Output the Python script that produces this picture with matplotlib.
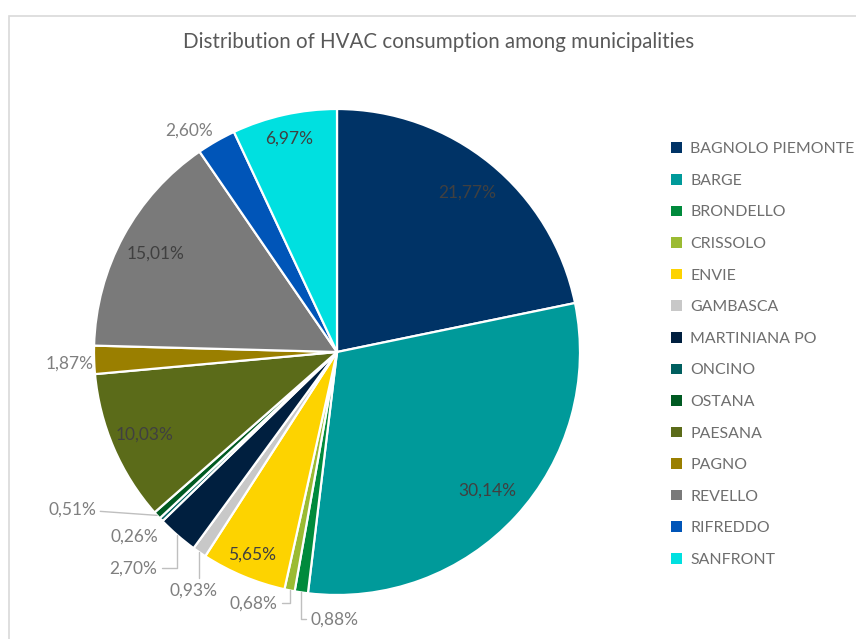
import numpy as np
import matplotlib
matplotlib.use("Agg")
import matplotlib.pyplot as plt
from matplotlib.patches import Rectangle

plt.rcParams['font.family'] = ['Lato', 'DejaVu Sans']

categories = ["BAGNOLO PIEMONTE", "BARGE", "BRONDELLO", "CRISSOLO", "ENVIE",
              "GAMBASCA", "MARTINIANA PO", "ONCINO", "OSTANA", "PAESANA",
              "PAGNO", "REVELLO", "RIFREDDO", "SANFRONT"]
values = [21.77, 30.14, 0.88, 0.68, 5.65, 0.93, 2.70, 0.26, 0.51, 10.03,
          1.87, 15.01, 2.60, 6.97]
colors = ["#003366", "#009a9a", "#008a3c", "#9bbb32", "#fdd300", "#c8c8c8",
          "#001f3f", "#005f5f", "#005a22", "#5b6b19", "#9a7f00", "#7a7a7a",
          "#0055b8", "#00e0e0"]

# label layout: 'in' -> radial distance; 'out' -> pixel offset, ha, leader style
layout = {
    "BAGNOLO PIEMONTE": ("in", 0.845),
    "BARGE": ("in", 0.84),
    "ENVIE": ("in", 0.905),
    "PAESANA": ("in", 0.86),
    "REVELLO": ("in", 0.85),
    "SANFRONT": ("in", 0.90),
    "BRONDELLO": ("out", (9, -27), "left", "elbow"),
    "CRISSOLO": ("out", (-12, -13), "right", "elbow"),
    "GAMBASCA": ("out", (-6, -38), "center", "elbow"),
    "MARTINIANA PO": ("out", (-20, -33), "right", "elbow"),
    "ONCINO": ("out", (-27, -17), "center", None),
    "OSTANA": ("out", (-61, 6), "right", "straight"),
    "PAGNO": ("out", (-1, -4), "right", None),
    "RIFREDDO": ("out", (-3, 10), "right", None),
}

W, H = 856, 639
fig = plt.figure(figsize=(W / 100, H / 100), dpi=100)
fig.patch.set_facecolor("white")

# chart border (cropped at right/bottom)
fig.add_artist(Rectangle((8.5 / W, -0.01), 1.1, (H - 15.5) / H + 0.01,
                         transform=fig.transFigure, fill=False,
                         edgecolor="#d9d9d9", linewidth=1.2))

cx, cy, R = 337, 352, 243
ax = fig.add_axes([(cx - R) / W, (H - cy - R) / H, 2 * R / W, 2 * R / H])
wedges, _ = ax.pie(values, colors=colors, startangle=90, counterclock=False,
                   radius=1.0, wedgeprops=dict(edgecolor="white", linewidth=1.6))
ax.set_xlim(-1, 1)
ax.set_ylim(-1, 1)
ax.set_aspect("equal")
ax.axis("off")

def fmt(v):
    return f"{v:.2f}%".replace(".", ",")

FS = 12.5
for w, cat, v in zip(wedges, categories, values):
    mid = np.deg2rad((w.theta1 + w.theta2) / 2)
    ex, ey = np.cos(mid), np.sin(mid)
    spec = layout[cat]
    if spec[0] == "in":
        r = spec[1]
        ax.text(r * ex, r * ey, fmt(v), ha="center", va="center",
                fontsize=FS, color="#404040")
    else:
        off, ha, leader = spec[1], spec[2], spec[3]
        if leader is None:
            ax.annotate(fmt(v), xy=(ex, ey), xytext=off, textcoords="offset pixels",
                        ha=ha, va="center", fontsize=FS, color="#7f7f7f")
        else:
            cs = "angle,angleA=0,angleB=90,rad=0" if leader == "elbow" else "arc3,rad=0"
            ax.annotate(fmt(v), xy=(ex, ey), xytext=off, textcoords="offset pixels",
                        ha=ha, va="center", fontsize=FS, color="#7f7f7f",
                        arrowprops=dict(arrowstyle="-", color="#bfbfbf", lw=1.0,
                                        connectionstyle=cs, shrinkA=1, shrinkB=0))

fig.text(439 / W, 1 - 42 / H, "Distribution of HVAC consumption among municipalities",
         ha="center", va="center", fontsize=14.8, color="#595959")

leg = fig.legend(wedges, categories, loc="upper left",
                 bbox_to_anchor=(665 / W, 1 - 136 / H), frameon=False,
                 fontsize=11.4, labelcolor="#6e6e6e", handlelength=0.65,
                 handleheight=0.65, handletextpad=0.55, labelspacing=1.11,
                 borderaxespad=0)
for h in leg.legend_handles:
    h.set_edgecolor("white")
    h.set_linewidth(0)

fig.savefig("out.png", dpi=100, facecolor="white")
